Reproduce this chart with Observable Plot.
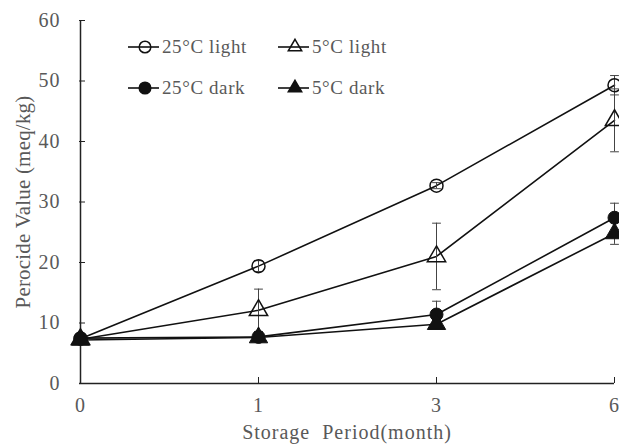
<!DOCTYPE html>
<html>
<head>
<meta charset="utf-8">
<script src="https://cdn.jsdelivr.net/npm/d3@7"></script>
<script src="https://cdn.jsdelivr.net/npm/@observablehq/plot@0.6"></script>
<style>
  html, body { margin: 0; padding: 0; background: #fff; }
  #wrap { position: relative; width: 619px; height: 444px; font-family: "Liberation Serif", "DejaVu Serif", serif; }
  #wrap svg text { letter-spacing: 1px; }
  #wrap svg g[aria-label="y-axis label"] text { letter-spacing: 0.2px; font-size: 21px; }
  #legend { position: absolute; left: 126px; top: 36px; display: grid; grid-template-columns: 150px 130px; row-gap: 19px; }
  .item { display: flex; align-items: center; height: 22px; color: #595959; font-size: 19px; letter-spacing: 0.6px; white-space: nowrap; }
  .item svg { margin-right: 2px; }
</style>
</head>
<body>
<div id="wrap"><div id="legend"></div></div>
<script>
// ---- data ----
const months = ["0", "1", "3", "6"];
const seriesNames = ["25°C light", "5°C light", "25°C dark", "5°C dark"];
const light25 = [7.4, 19.4, 32.7, 49.3];
const light25Sd = [0.3, 0.9, 0.5, 1.6];
const light5 = [7.3, 12.1, 21.0, 43.5];
const light5Sd = [0.3, 3.5, 5.5, 5.2];
const dark25 = [7.5, 7.7, 11.4, 27.4];
const dark25Sd = [0.2, 0.3, 2.2, 2.4];
const dark5 = [7.2, 7.6, 9.8, 24.8];
const dark5Sd = [0.2, 0.2, 0.4, 1.8];
const yTicks = [0, 10, 20, 30, 40, 50, 60];
const xLabel = "Storage\u00a0\u00a0Period(month)";
const yLabel = "Perocide Value (meq/kg)";

const symbols = ["circle", "triangle", "circle", "triangle"];
const filled = [false, false, true, true];
const valueSets = [light25, light5, dark25, dark5];
const sdSets = [light25Sd, light5Sd, dark25Sd, dark5Sd];

const data = [];
seriesNames.forEach((s, si) => {
  months.forEach((m, i) => {
    data.push({
      series: s, month: m, value: valueSets[si][i],
      lo: valueSets[si][i] - sdSets[si][i], hi: valueSets[si][i] + sdSets[si][i],
      symbol: symbols[si], filled: filled[si]
    });
  });
});
const pick = (sym, fil) => data.filter(d => d.symbol === sym && d.filled === fil);

const axisColor = "#222";
const capShape = { draw(context, l) { context.moveTo(-l / 2, 0); context.lineTo(l / 2, 0); } };
const rCircle = 6.5, rTri = 6.8;

const chart = Plot.plot({
  width: 619,
  height: 444,
  marginLeft: 79,
  marginRight: 5,
  marginTop: 20,
  marginBottom: 61,
  style: { fontFamily: "Liberation Serif", fontSize: "20px", color: "#595959", background: "white", overflow: "visible" },
  x: { type: "point", domain: months, padding: 0 },
  y: { domain: [0, 60] },
  marks: [
    Plot.axisY({ ticks: yTicks, tickSize: -6, tickPadding: 25, stroke: axisColor, fontSize: 20, label: yLabel, labelAnchor: "center", labelOffset: 64, labelArrow: "none" }),
    Plot.axisX({ tickSize: -6, tickPadding: 20, stroke: axisColor, fontSize: 20, label: xLabel, labelAnchor: "center", labelOffset: 55, labelArrow: "none" }),
    Plot.ruleY([0], { stroke: axisColor, strokeWidth: 1.5 }),
    Plot.ruleX([months[0]], { stroke: axisColor, strokeWidth: 1.5 }),
    Plot.line(data, { x: "month", y: "value", z: "series", stroke: "#111", strokeWidth: 1.6 }),
    Plot.ruleX(data, { x: "month", y1: "lo", y2: "hi", stroke: "#444", strokeWidth: 1 }),
    Plot.vector(data, { x: "month", y: "hi", length: 8, shape: capShape, anchor: "start", stroke: "#444", strokeWidth: 1 }),
    Plot.vector(data, { x: "month", y: "lo", length: 8, shape: capShape, anchor: "start", stroke: "#444", strokeWidth: 1 }),
    Plot.dot(pick("circle", false), { x: "month", y: "value", symbol: "circle", r: rCircle, fill: "none", stroke: "#111", strokeWidth: 1.5 }),
    Plot.dot(pick("triangle", false), { x: "month", y: "value", symbol: "triangle", r: rTri, fill: "none", stroke: "#111", strokeWidth: 1.5 }),
    Plot.dot(pick("circle", true), { x: "month", y: "value", symbol: "circle", r: rCircle, fill: "#111", stroke: "#111", strokeWidth: 1 }),
    Plot.dot(pick("triangle", true), { x: "month", y: "value", symbol: "triangle", r: rTri, fill: "#111", stroke: "#111", strokeWidth: 1 })
  ]
});
document.getElementById("wrap").prepend(chart);

// ---- legend ----
const legend = document.getElementById("legend");
seriesNames.forEach((s, si) => {
  const item = document.createElement("div");
  item.className = "item";
  const r = symbols[si] === "triangle" ? 6.4 : 5.8;
  const sym = symbols[si] === "triangle" ? d3.symbolTriangle2 : d3.symbolCircle;
  const path = d3.symbol(sym, Math.PI * r * r)();
  const svgNS = "http://www.w3.org/2000/svg";
  const svg = document.createElementNS(svgNS, "svg");
  svg.setAttribute("width", 34); svg.setAttribute("height", 22);
  const ln = document.createElementNS(svgNS, "line");
  ln.setAttribute("x1", 2); ln.setAttribute("x2", 33); ln.setAttribute("y1", 11); ln.setAttribute("y2", 11);
  ln.setAttribute("stroke", "#111"); ln.setAttribute("stroke-width", 1.6);
  svg.appendChild(ln);
  const p = document.createElementNS(svgNS, "path");
  p.setAttribute("d", path);
  p.setAttribute("transform", "translate(19,11)");
  p.setAttribute("fill", filled[si] ? "#111" : "none");
  p.setAttribute("stroke", "#111"); p.setAttribute("stroke-width", 1.5);
  svg.appendChild(p);
  item.appendChild(svg);
  const t = document.createElement("span");
  t.textContent = s;
  item.appendChild(t);
  legend.appendChild(item);
});
</script>
</body>
</html>
